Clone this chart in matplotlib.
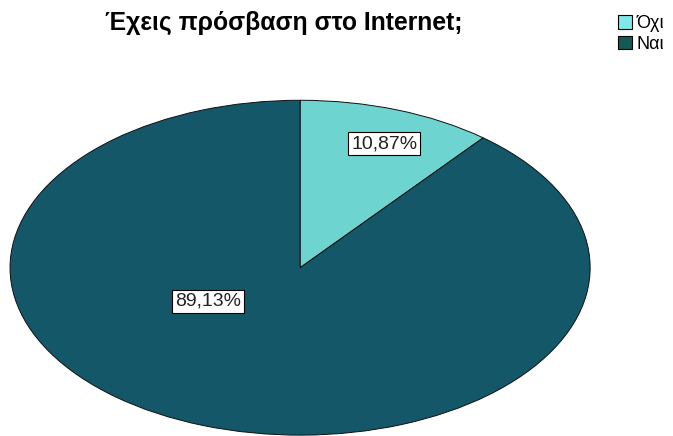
import matplotlib
matplotlib.use("Agg")
from matplotlib import pyplot as plt

# data
labels = ["Όχι", "Ναι"]
shares = [10.87, 89.13]
colors = ["#6dd4cf", "#145769"]
legend_colors = ["#7fe8e8", "#135a55"]
pct_text = ["10,87%", "89,13%"]

plt.rcParams['font.family'] = ['Liberation Sans', 'DejaVu Sans']

fig = plt.figure(figsize=(6.73, 4.36), dpi=100)
ax = fig.add_axes([0.0149, 0.002, 0.862, 0.768])

wedges, texts = ax.pie(shares, colors=colors, startangle=90, counterclock=False,
                       radius=1.0, wedgeprops=dict(edgecolor="#101010", linewidth=0.7))
ax.set_aspect('auto')
ax.set_xlim(-1, 1)
ax.set_ylim(-1, 1)
ax.axis('off')

# labels in white boxes
label_pos = [(0.29, 0.74), (-0.318, -0.20)]
for (x, y), t in zip(label_pos, pct_text):
    ax.text(x, y, t, ha="center", va="center", fontsize=14, color="#222222",
            bbox=dict(boxstyle="square,pad=0.15", fc="white", ec="black", lw=0.8))

fig.text(0.421, 0.948, "Έχεις πρόσβαση στο Internet;", ha="center", va="center",
         fontsize=17.8, fontweight="bold")

handles = [plt.Rectangle((0, 0), 1, 1, fc=c, ec="black", lw=0.8) for c in legend_colors]
fig.legend(handles, labels, loc="upper left", bbox_to_anchor=(0.899, 0.995),
           frameon=False, fontsize=13, handlelength=0.8, handleheight=0.8,
           handletextpad=0.25, labelspacing=0.2, borderpad=0.2)

fig.savefig("out.png", dpi=100)
